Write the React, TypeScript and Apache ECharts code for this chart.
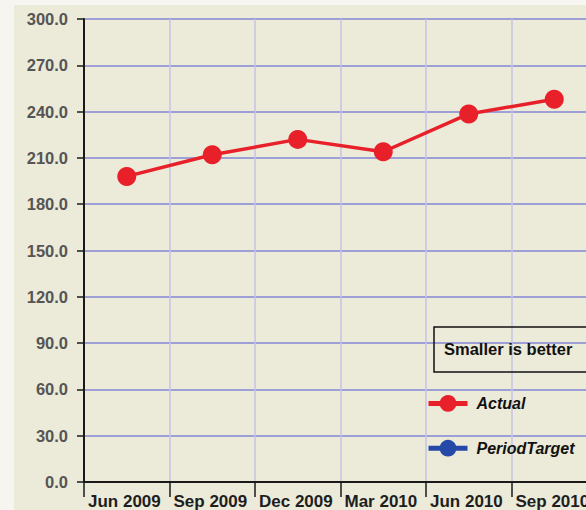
import React, { useEffect, useRef } from "react";
import * as echarts from "echarts";

const categories = ["Jun 2009", "Sep 2009", "Dec 2009", "Mar 2010", "Jun 2010", "Sep 2010"];
const actualValues = [198, 212, 222, 214, 238.5, 248];
const periodTargetValues: (number | null)[] = [null, null, null, null, null, null];
const yMin = 0;
const yMax = 300;
const yInterval = 30;
const noteText = "Smaller is better";

export default function App() {
  const ref = useRef<HTMLDivElement>(null);
  useEffect(() => {
    if (!ref.current) return;
    const chart = echarts.init(ref.current, undefined, { renderer: "svg" });
    const font = "'Liberation Sans', Arial, sans-serif";
    chart.setOption({
      animation: false,
      backgroundColor: "#ecead9",
      grid: { left: 70, top: 14, right: 17, bottom: 25, containLabel: false },
      xAxis: [
        {
          type: "category",
          data: categories,
          boundaryGap: true,
          position: "bottom",
          axisLine: { show: true, lineStyle: { color: "#1a1a1a", width: 2 } },
          axisTick: { show: false },
          axisLabel: { show: false },
          splitLine: { show: true, lineStyle: { color: "#c4c3e6", width: 1.5 } },
        },
        {
          type: "category",
          data: [...categories, ""],
          boundaryGap: false,
          position: "bottom",
          axisLine: { show: false },
          axisTick: { show: true, length: 15, lineStyle: { color: "#1a1a1a", width: 1.5 } },
          axisLabel: {
            show: true,
            interval: 0,
            align: "left",
            verticalAlign: "top",
            margin: 11,
            padding: [0, 0, 0, 4],
            color: "#1e1e1e",
            fontWeight: "bold",
            fontSize: 17,
            fontFamily: font,
          },
          splitLine: { show: false },
        },
      ],
      yAxis: {
        type: "value",
        min: yMin,
        max: yMax,
        interval: yInterval,
        axisLine: { show: true, lineStyle: { color: "#1a1a1a", width: 2 } },
        axisTick: { show: true, length: 7, lineStyle: { color: "#1a1a1a", width: 1.5 } },
        axisLabel: {
          margin: 16,
          color: "#555555",
          fontWeight: "bold",
          fontSize: 16.5,
          fontFamily: font,
          formatter: (v: number) => v.toFixed(1),
        },
        splitLine: { show: true, lineStyle: { color: "#8686d6", width: 1.5 } },
      },
      legend: {
        data: ["Actual", "PeriodTarget"],
        orient: "vertical",
        left: 412,
        top: 390,
        padding: 0,
        itemGap: 28,
        itemWidth: 39,
        itemHeight: 21,
        selectedMode: false,
        lineStyle: { width: 5 },
        textStyle: {
          color: "#111111",
          fontWeight: "bold",
          fontStyle: "italic",
          fontSize: 16,
          fontFamily: font,
          padding: [0, 0, 0, 4],
        },
      },
      graphic: [
        {
          type: "rect",
          shape: { x: 420, y: 322, width: 200, height: 45 },
          style: { fill: "none", stroke: "#111111", lineWidth: 1.5 },
          z: 10,
        },
        {
          type: "text",
          x: 430,
          y: 344,
          style: {
            text: noteText,
            fill: "#111111",
            font: `bold 16.5px ${font}`,
            verticalAlign: "middle",
          },
          z: 10,
        },
      ],
      series: [
        {
          name: "Actual",
          type: "line",
          xAxisIndex: 0,
          data: actualValues,
          symbol: "circle",
          symbolSize: 19,
          itemStyle: { color: "#e8202a" },
          lineStyle: { color: "#e8202a", width: 3.5 },
        },
        {
          name: "PeriodTarget",
          type: "line",
          xAxisIndex: 0,
          data: periodTargetValues,
          symbol: "circle",
          symbolSize: 19,
          itemStyle: { color: "#2449a6" },
          lineStyle: { color: "#2449a6", width: 3.5 },
        },
      ],
    });
    return () => chart.dispose();
  }, []);
  return (
    <div
      style={{
        position: "fixed",
        left: 0,
        top: 0,
        width: 586,
        height: 510,
        overflow: "hidden",
        background: "#f6f5ef",
      }}
    >
      <div ref={ref} style={{ position: "absolute", left: 14, top: 5, width: 600, height: 505 }} />
    </div>
  );
}
